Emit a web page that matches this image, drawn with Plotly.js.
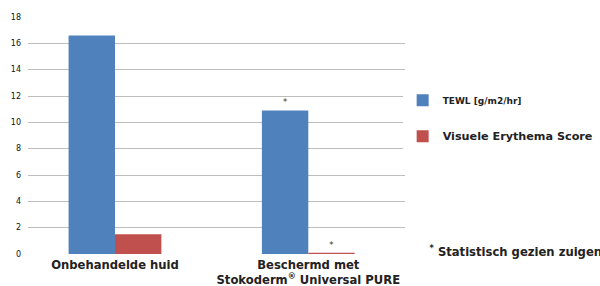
<!DOCTYPE html>
<html><head><meta charset="utf-8">
<script src="https://cdn.plot.ly/plotly-3.0.1.min.js"></script>
<style>html,body{margin:0;padding:0;background:#fff;}</style>
</head><body>
<div id="chart" style="width:600px;height:286px;"></div>
<script>
const categories = ["Onbehandelde huid", "Beschermd met<br>Stokoderm<sup>®</sup> Universal PURE"];
const tewl = [16.6, 10.9];
const erythema = [1.5, 0.1];
const significance = ["", "*"];
const seriesNames = ["TEWL [g/m2/hr]", "<span style='font-size:11.2px'>Visuele Erythema Score</span>"];
const yTicks = [0, 2, 4, 6, 8, 10, 12, 14, 16, 18];
const footnote = "<sup>*</sup> Statistisch gezien zuigen";

const FONT = "DejaVu Sans, sans-serif";
const traces = [
  {type:"bar", x:categories, y:tewl, name:seriesNames[0], marker:{color:"#4f81bd"},
   legendgroup:"a", text:significance, textposition:"outside", textfont:{size:8.5,color:"#333"},
   cliponaxis:false, hoverinfo:"y"},
  {type:"bar", x:categories, y:erythema, name:seriesNames[1], marker:{color:"#c0504d"},
   legendgroup:"b", text:significance, textposition:"outside", textfont:{size:8.5,color:"#333"},
   cliponaxis:false, hoverinfo:"y"}
];
const layout = {
  width:600, height:286,
  margin:{l:28, r:0, t:17, b:32},
  paper_bgcolor:"#fff", plot_bgcolor:"#fff",
  font:{family:FONT, color:"#222"},
  barmode:"group", bargap:0.52, bargroupgap:0,
  title:{text:footnote, xref:"container", yref:"container", x:0.716, y:0.12,
         xanchor:"left", yanchor:"middle", automargin:false,
         font:{size:11.6, color:"#222", family:FONT, weight:"bold"}},
  showlegend:true,
  legend:{xref:"paper", yref:"paper", x:0.655, y:0.71, xanchor:"left", yanchor:"top",
          font:{size:9, color:"#222", family:FONT, weight:"bold"},
          tracegroupgap:17, traceorder:"grouped", itemwidth:30},
  xaxis:{type:"category", domain:[0, 0.659], range:[-0.45, 1.5], showgrid:false, zeroline:false, showline:false,
         ticks:"", tickfont:{size:11.6, color:"#222", family:FONT, weight:"bold"},
         ticklabelstandoff:2, automargin:false},
  yaxis:{range:[0,18], tickvals:yTicks, showgrid:true, gridcolor:"#bdbdbd", gridwidth:1,
         zeroline:false, showline:false, ticks:"", tickfont:{size:8, color:"#111", family:FONT},
         ticklabelstandoff:6, automargin:false}
};
Plotly.newPlot("chart", traces, layout, {displayModeBar:false, staticPlot:true});
</script>
</body></html>
